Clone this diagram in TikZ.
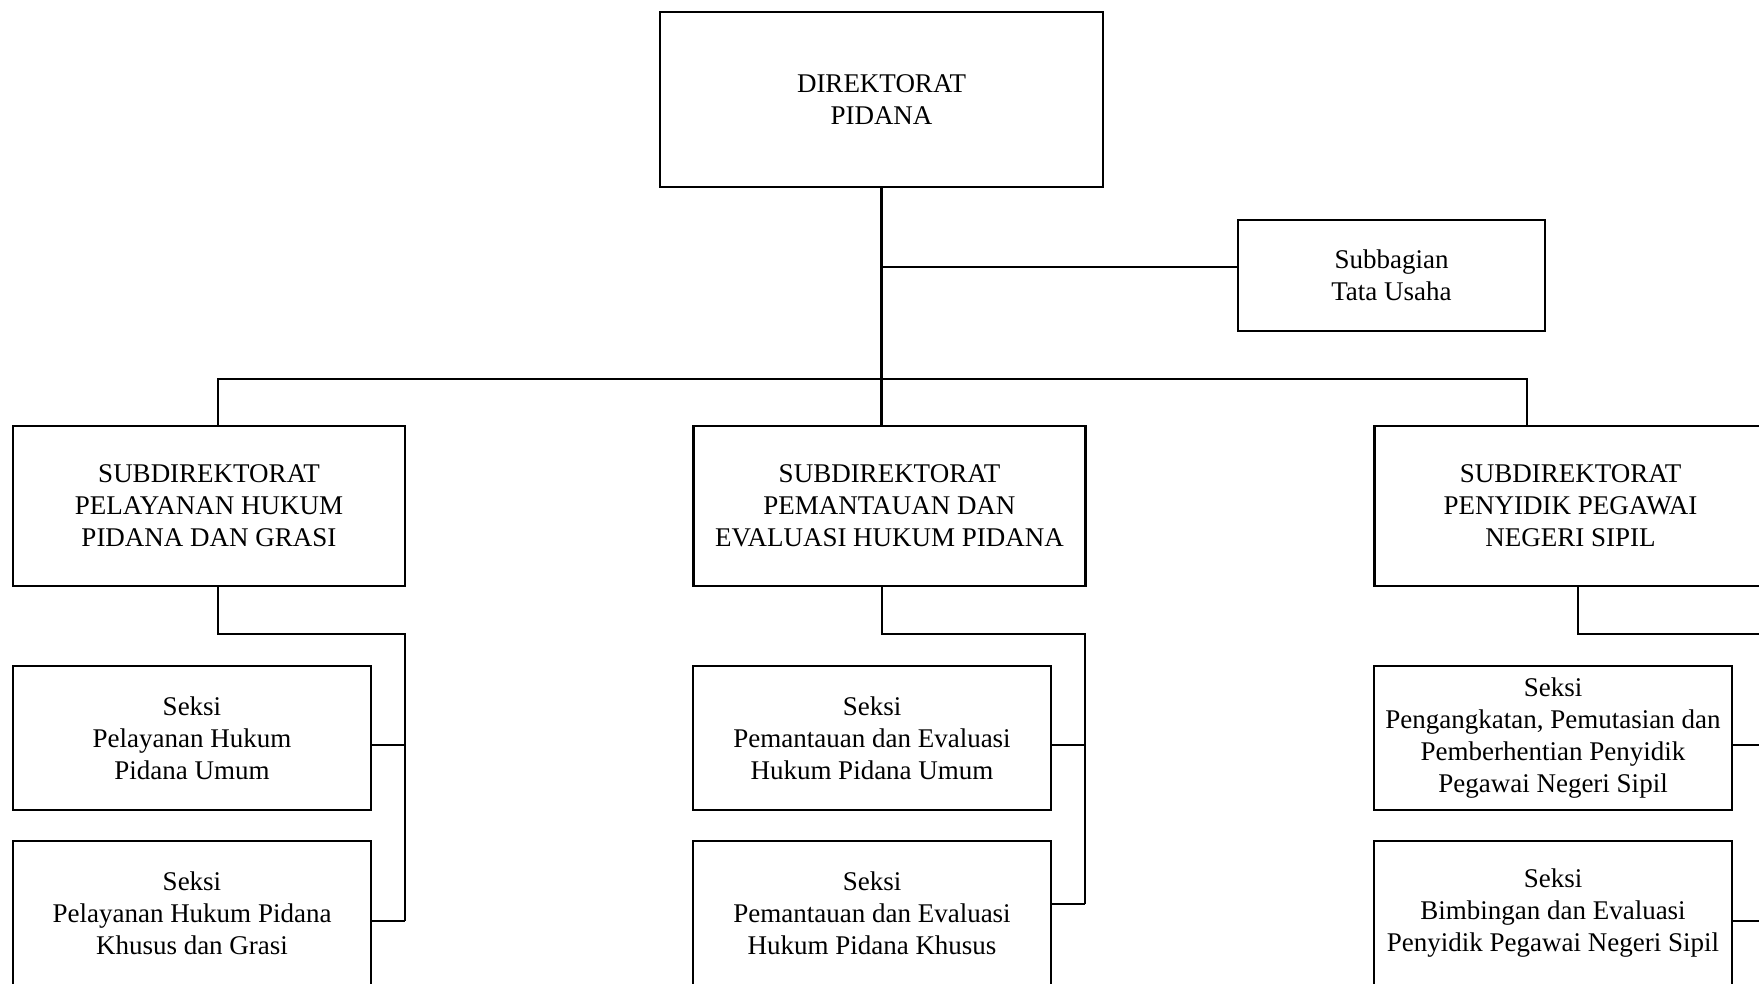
\documentclass[tikz,border=0pt]{standalone}
\usepackage{fontspec}
\setmainfont{Liberation Serif}
\usetikzlibrary{positioning}
\tikzstyle{unit} = [rectangle, draw, line width=2.8pt, align=center,
                 inner sep=0pt, font=\fontsize{27}{32}\selectfont]
\tikzstyle{branch} = [line width=2.9pt, draw]
\tikzset{
	direktorat/.style={unit, minimum width=443pt, minimum height=175pt},
	tatausaha/.style={unit, minimum width=307pt, minimum height=111pt},
	subdit/.style={unit, minimum width=392pt, minimum height=160pt},
	seksi/.style={unit, minimum width=358pt, minimum height=144pt},
}

\begin{document}
\begin{tikzpicture}[x=1pt, y=-1pt]

\useasboundingbox (0,0) rectangle (1759,984);
\clip (0,0) rectangle (1759,984);

\node [direktorat] at (881.5,99.5) (dir) {DIREKTORAT\\PIDANA};
\node [tatausaha] at (1391.5,275.5) (tu) {Subbagian\\Tata Usaha};

\node [subdit] at (209,506) (pel) {SUBDIREKTORAT\\PELAYANAN HUKUM\\PIDANA DAN GRASI};
\node [subdit] at (889.5,506) (pem) {SUBDIREKTORAT\\PEMANTAUAN DAN\\EVALUASI HUKUM PIDANA};
\node [subdit] at (1570.5,506) (ppns) {SUBDIREKTORAT\\PENYIDIK PEGAWAI\\NEGERI SIPIL};

\node [seksi] at (192,738) (phpu) {Seksi\\Pelayanan Hukum\\Pidana Umum};
\node [seksi] at (192,913) (phpk) {Seksi\\Pelayanan Hukum Pidana\\Khusus dan Grasi};
\node [seksi] at (872,738) (pehu) {Seksi\\Pemantauan dan Evaluasi\\Hukum Pidana Umum};
\node [seksi] at (872,913) (pehk) {Seksi\\Pemantauan dan Evaluasi\\Hukum Pidana Khusus};
\node [seksi] at (1553,738) (ppp) {Seksi\\Pengangkatan, Pemutasian dan\\Pemberhentian Penyidik\\Pegawai Negeri Sipil};
\node [seksi] at (1553,913) (bep) {Seksi\\Bimbingan dan Evaluasi\\Penyidik Pegawai Negeri Sipil};

\coordinate (tu joint) at (882,267);
\coordinate (bus left) at (218,379);
\coordinate (bus right) at (1527,379);
\coordinate (pel joint) at (218,634);
\coordinate (pem joint) at (882,634);
\coordinate (ppns joint) at (1578,634);
\coordinate (pel stub a) at (405,745);
\coordinate (pel stub b) at (405,921);
\coordinate (pem stub a) at (1085,745);
\coordinate (pem stub b) at (1085,904);
\coordinate (ppns stub a) at (1767,745);
\coordinate (ppns stub b) at (1767,921);

%top level
\path [branch] (dir.south) -- (dir.south |- pem.north);
\path [branch] (tu joint) -- (tu joint -| tu.west);
\path [branch] (pel.north -| bus left) -- (bus left) -- (bus right) -- (bus right |- ppns.north);

%seksi
\path [branch] (pel.south -| pel joint) -- (pel joint) -- (pel stub a |- pel joint) -- (pel stub b);
\path [branch] (pel stub a -| phpu.east) -- (pel stub a);
\path [branch] (pel stub b -| phpk.east) -- (pel stub b);

\path [branch] (pem.south -| pem joint) -- (pem joint) -- (pem stub a |- pem joint) -- (pem stub b);
\path [branch] (pem stub a -| pehu.east) -- (pem stub a);
\path [branch] (pem stub b -| pehk.east) -- (pem stub b);

\path [branch] (ppns.south -| ppns joint) -- (ppns joint) -- (ppns stub a |- ppns joint) -- (ppns stub b);
\path [branch] (ppns stub a -| ppp.east) -- (ppns stub a);
\path [branch] (ppns stub b -| bep.east) -- (ppns stub b);

\end{tikzpicture}
\end{document}
